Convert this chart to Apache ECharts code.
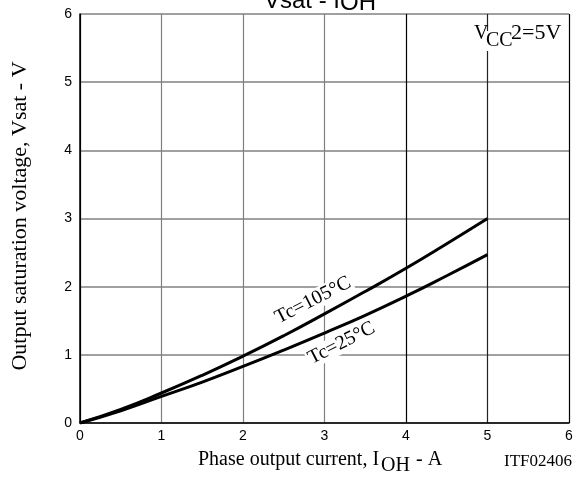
<!DOCTYPE html>
<html lang="en">
<head>
    <meta charset="UTF-8">
    <title>Vsat - IOH</title>
    <script src="https://cdn.jsdelivr.net/npm/echarts@6/dist/echarts.min.js"></script>
</head>
<body style="margin:0;background:#fff;">
    <div id="main" style="width: 577px;height:478px;"></div>
    <script type="text/javascript">
        // data
        var current = [0, 0.5, 1, 1.5, 2, 2.5, 3, 3.5, 4, 4.5, 5];
        var vsat105 = [0, 0.2, 0.44, 0.7, 0.98, 1.28, 1.6, 1.93, 2.27, 2.63, 3.0];
        var vsat25 = [0, 0.18, 0.39, 0.6, 0.83, 1.07, 1.32, 1.58, 1.86, 2.16, 2.47];
        var xTicks = [0, 1, 2, 3, 4, 5, 6];
        var yTicks = [0, 1, 2, 3, 4, 5, 6];

        function pairs(xs, ys) {
            return xs.map(function (x, i) { return [x, ys[i]]; });
        }

        var serif = '"Liberation Serif", "Times New Roman", serif';
        var sans = '"Liberation Sans", Arial, sans-serif';

        var myChart = echarts.init(document.getElementById('main'));
        var option = {
            backgroundColor: '#fff',
            animation: false,
            grid: { left: 80, right: 8, top: 14, bottom: 55 },
            xAxis: {
                type: 'value',
                min: xTicks[0],
                max: xTicks[xTicks.length - 1],
                interval: 1,
                axisLine: { lineStyle: { color: '#000', width: 1.5 } },
                axisTick: { show: false },
                axisLabel: { color: '#000', fontFamily: sans, fontSize: 14, margin: 6 },
                splitLine: {
                    lineStyle: { color: ['#000', '#808080', '#808080', '#808080', '#000', '#222', '#000'], width: 1.2 }
                }
            },
            yAxis: {
                type: 'value',
                min: yTicks[0],
                max: yTicks[yTicks.length - 1],
                interval: 1,
                axisLine: { lineStyle: { color: '#000', width: 1.5 } },
                axisTick: { show: false },
                axisLabel: { color: '#000', fontFamily: sans, fontSize: 14, margin: 8 },
                splitLine: { lineStyle: { color: '#808080', width: 1.5 } }
            },
            series: [
                {
                    name: 'Tc=105°C',
                    type: 'line',
                    smooth: true,
                    showSymbol: false,
                    lineStyle: { color: '#000', width: 3 },
                    data: pairs(current, vsat105)
                },
                {
                    name: 'Tc=25°C',
                    type: 'line',
                    smooth: true,
                    showSymbol: false,
                    lineStyle: { color: '#000', width: 3 },
                    data: pairs(current, vsat25)
                }
            ]
        };
        myChart.setOption(option);

        // curve labels, placed in data coordinates
        var p105 = myChart.convertToPixel({ gridIndex: 0 }, [2.86, 1.8]);
        var p25 = myChart.convertToPixel({ gridIndex: 0 }, [3.21, 1.17]);
        var rot = 27 * Math.PI / 180;

        // y is the top of the text box
        function txt(x, y, text, size, font, align, bg) {
            return {
                type: 'text', x: x, y: y, z: 5,
                style: {
                    text: text, fill: '#000', font: size + 'px ' + font,
                    textAlign: align || 'left', textVerticalAlign: 'top',
                    backgroundColor: bg || null
                }
            };
        }

        myChart.setOption({
            graphic: [
                // title (cut off at the top)
                txt(264, -11, 'Vsat - I', 24, sans),
                txt(340, -9, 'OH', 24, sans),
                // top right condition
                txt(474, 24, 'V', 20, serif),
                txt(486, 31, 'CC', 20, serif, 'left', '#fff'),
                txt(511, 22, '2=5V', 22, serif),
                // x axis name
                txt(198, 450, 'Phase output current, I', 20, serif),
                txt(381, 456, 'OH', 20, serif),
                txt(411, 450, ' - A', 20, serif),
                txt(572, 453, 'ITF02406', 17, serif, 'right'),
                // y axis name
                {
                    type: 'text', x: 20, y: 216, rotation: Math.PI / 2, z: 5,
                    style: {
                        text: 'Output saturation voltage, Vsat - V', fill: '#000',
                        font: '22px ' + serif, textAlign: 'center', textVerticalAlign: 'middle'
                    }
                },
                {
                    type: 'text', x: p105[0], y: p105[1], rotation: rot, z: 1,
                    style: {
                        text: 'Tc=105°C', fill: '#000', font: '20px ' + serif,
                        textAlign: 'center', textVerticalAlign: 'middle',
                        backgroundColor: '#fff', padding: [0, 2]
                    }
                },
                {
                    type: 'text', x: p25[0], y: p25[1], rotation: rot, z: 1,
                    style: {
                        text: 'Tc=25°C', fill: '#000', font: '20px ' + serif,
                        textAlign: 'center', textVerticalAlign: 'middle',
                        backgroundColor: '#fff', padding: [0, 2]
                    }
                }
            ]
        });
    </script>
</body>
</html>
